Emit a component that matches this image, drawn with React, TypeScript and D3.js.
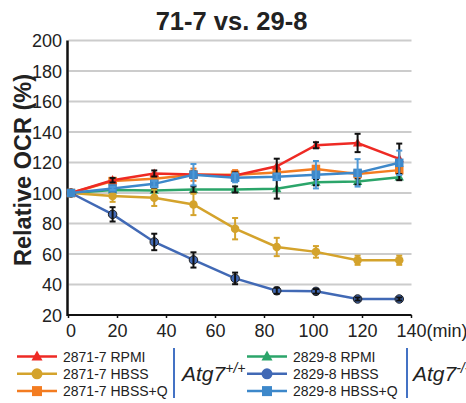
import React from 'react';
import * as d3 from 'd3';

// measurement times (min)
const times = [1, 18, 35, 51, 68, 85, 101, 118, 135];

const seriesNames = [
  '2829-8 RPMI',
  '2871-7 HBSS',
  '2829-8 HBSS',
  '2871-7 HBSS+Q',
  '2871-7 RPMI',
  '2829-8 HBSS+Q',
];

// relative OCR (%)
const rpmi71 = [100, 108.4, 112.8, 112.1, 111.5, 117.5, 131.3, 132.8, 122.4];
const hbss71 = [100, 98, 96.9, 92.5, 76.6, 64.6, 61.4, 55.9, 55.9];
const hbssQ71 = [100, 107.8, 109.3, 112, 112, 113.4, 115.8, 112.5, 115];
const rpmi29 = [100, 101.9, 101.7, 102.3, 102.3, 102.8, 107, 107.5, 110.4];
const hbss29 = [100, 86, 67.9, 56.1, 44, 35.9, 35.5, 30.5, 30.5];
const hbssQ29 = [100, 103, 106, 112, 110, 110.6, 112, 113.2, 119.8];

// error (±)
const rpmi71Err = [0, 1.5, 2, 2, 2, 5, 2, 6, 10];
const hbss71Err = [0, 3.8, 5.4, 7, 7, 6, 3.8, 3, 3];
const hbssQ71Err = [0, 2, 2, 4, 3, 1.5, 1.5, 2, 2];
const rpmi29Err = [0, 1, 1, 2, 2, 6.5, 2, 2, 2];
const hbss29Err = [0, 4.7, 5.4, 5, 3.8, 2, 1.5, 1, 1];
const hbssQ29Err = [0, 1, 2, 7, 3, 2, 9, 9, 8];

const yTicks = [20, 40, 60, 80, 100, 120, 140, 160, 180, 200];
const xTicks = [0, 20, 40, 60, 80, 100, 120, 140];

type Shape = 'triangle' | 'circle' | 'square';
interface Series {
  name: string;
  values: number[];
  err: number[];
  color: string;
  errColor: string;
  shape: Shape;
}

const series: Series[] = [
  { name: seriesNames[0], values: rpmi29, err: rpmi29Err, color: '#2ba56a', errColor: '#111', shape: 'triangle' },
  { name: seriesNames[1], values: hbss71, err: hbss71Err, color: '#d4a32c', errColor: '#d4a32c', shape: 'circle' },
  { name: seriesNames[2], values: hbss29, err: hbss29Err, color: '#4169b5', errColor: '#111', shape: 'circle' },
  { name: seriesNames[3], values: hbssQ71, err: hbssQ71Err, color: '#f37c21', errColor: '#f37c21', shape: 'square' },
  { name: seriesNames[4], values: rpmi71, err: rpmi71Err, color: '#ee2a24', errColor: '#111', shape: 'triangle' },
  { name: seriesNames[5], values: hbssQ29, err: hbssQ29Err, color: '#3d88ca', errColor: '#4f9ad8', shape: 'square' },
];

const legendLeft = [seriesNames[4], seriesNames[1], seriesNames[3]];
const legendRight = [seriesNames[0], seriesNames[2], seriesNames[5]];

const FONT = 'Arial, "Liberation Sans", Helvetica, sans-serif';

const Marker = ({ shape, x, y, color, size = 8, stroke }: { shape: Shape; x: number; y: number; color: string; size?: number; stroke?: string }) => {
  if (shape === 'circle') return <circle cx={x} cy={y} r={size / 2} fill={color} stroke={stroke} strokeWidth={stroke ? 1 : 0} />;
  if (shape === 'square') return <rect x={x - size / 2} y={y - size / 2} width={size} height={size} fill={color} />;
  const h = size;
  return <path d={`M${x},${y - h * 0.6}L${x + h * 0.55},${y + h * 0.4}L${x - h * 0.55},${y + h * 0.4}Z`} fill={color} />;
};

export default function App() {
  const width = 466;
  const height = 403;
  const margin = { left: 68.5, right: 54.5, top: 40.5, bottom: 88 };

  const x = d3.scaleLinear().domain([0, 140]).range([margin.left, width - margin.right]);
  const y = d3.scaleLinear().domain([20, 200]).range([height - margin.bottom, margin.top]);
  const line = d3.line<number>().x((_, i) => x(times[i])).y(d => y(d));

  const legendRow = (names: string[], lx: number) =>
    names.map((n, i) => {
      const s = series.find(d => d.name === n)!;
      const ly = 356.5 + i * 17.3;
      return (
        <g key={n}>
          <line x1={lx} x2={lx + 40} y1={ly} y2={ly} stroke={s.color} strokeWidth={2.5} />
          <Marker shape={s.shape} x={lx + 20} y={ly} color={s.color} size={s.shape === 'circle' ? 11 : 10} />
          <text x={lx + 46} y={ly + 5} fontSize={14} fill="#222">{n}</text>
        </g>
      );
    });

  return (
    <div style={{ position: 'absolute', left: 0, top: 0 }}>
      <svg width={width} height={height} style={{ display: 'block', fontFamily: FONT }}>
        <rect width={width} height={height} fill="#fff" />
        <text x={231.5} y={30} textAnchor="middle" fontSize={25.5} fontWeight="bold" fill="#222">71-7 vs. 29-8</text>

        {/* gridlines */}
        {yTicks.filter(t => t > 20).map(t => (
          <line key={t} x1={x(0)} x2={x(140)} y1={y(t)} y2={y(t)} stroke="#cccccc" strokeWidth={2} />
        ))}

        {/* y tick labels */}
        {yTicks.map(t => (
          <text key={t} x={62} y={y(t) + 6.5} textAnchor="end" fontSize={18} fill="#222">{t}</text>
        ))}

        {/* x axis */}
        <line x1={x(0) - 1} x2={x(140)} y1={y(20)} y2={y(20)} stroke="#111" strokeWidth={2.2} />
        {xTicks.map(t => (
          <line key={t} x1={x(t)} x2={x(t)} y1={y(20)} y2={y(20) + 3} stroke="#111" strokeWidth={1.5} />
        ))}
        {xTicks.map(t => (
          <text key={t} x={x(t) + (t === 0 ? 2.5 : 0)} y={337} textAnchor="middle" fontSize={18} fill="#222">{t}</text>
        ))}
        <text x={x(140) + 15} y={337} fontSize={18} fill="#222">(min)</text>

        {/* y axis */}
        <line x1={x(0) - 1} x2={x(0) - 1} y1={y(200)} y2={y(20) + 1} stroke="#111" strokeWidth={2.5} />
        <text transform={`translate(31,${170}) rotate(-90)`} textAnchor="middle" fontSize={23.5} fontWeight="bold" fill="#222">Relative OCR (%)</text>

        {/* series */}
        {series.map(s => (
          <g key={s.name}>
            <path d={line(s.values) || ''} fill="none" stroke={s.color} strokeWidth={2.5} />
            {s.values.map((v, i) => (
              <Marker key={i} shape={s.shape} x={x(times[i])} y={y(v)} color={s.color} size={8.5} stroke={s.errColor === '#111' ? '#222' : undefined} />
            ))}
            {s.values.map((v, i) => s.err[i] > 0 && (
              <g key={'e' + i} stroke={s.errColor} strokeWidth={2}>
                <line x1={x(times[i])} x2={x(times[i])} y1={y(v + s.err[i])} y2={y(v - s.err[i])} />
                <line x1={x(times[i]) - 3} x2={x(times[i]) + 3} y1={y(v + s.err[i])} y2={y(v + s.err[i])} />
                <line x1={x(times[i]) - 3} x2={x(times[i]) + 3} y1={y(v - s.err[i])} y2={y(v - s.err[i])} />
              </g>
            ))}
          </g>
        ))}

        {/* legend */}
        {legendRow(legendLeft, 17)}
        <line x1={174} x2={174} y1={348} y2={398} stroke="#4472c4" strokeWidth={2} />
        <text x={182} y={381} fontSize={21} fontStyle="italic" fill="#222">Atg7<tspan fontSize={14} dy={-8}>+/+</tspan></text>
        {legendRow(legendRight, 247)}
        <line x1={407} x2={407} y1={348} y2={398} stroke="#4472c4" strokeWidth={2} />
        <text x={413} y={381} fontSize={21} fontStyle="italic" fill="#222">Atg7<tspan fontSize={14} dy={-8}>-/-</tspan></text>
      </svg>
    </div>
  );
}
